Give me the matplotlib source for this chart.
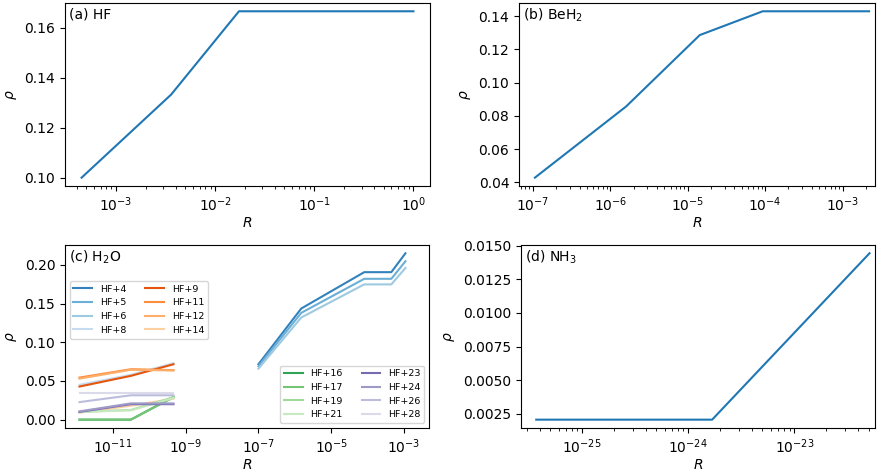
import numpy as np
import matplotlib.pyplot as plt
from matplotlib.ticker import NullLocator

plt.rcParams['font.size'] = 10

# (a) HF
R_hf = [4.5e-4, 3.6e-3, 1.74e-2, 1.0]
rho_hf = [0.1, 0.1333, 0.1667, 0.1667]

# (b) BeH2
R_beh2 = [1.06e-7, 1.6e-6, 1.43e-5, 9.3e-5, 2.2e-3]
rho_beh2 = [0.0429, 0.0857, 0.1286, 0.1429, 0.1429]

# (d) NH3
R_nh3 = [3.7e-26, 1.68e-24, 5.1e-23]
rho_nh3 = [0.00206, 0.00206, 0.01444]

# (c) H2O, two groups of R values
R_small = [1.2e-12, 3.1e-11, 4.6e-10]
R_large = [1.0e-7, 1.5e-6, 8.1e-5, 4.5e-4, 1.1e-3]

h2o_large = {
    'HF+4': [0.0716, 0.1436, 0.1906, 0.1906, 0.2150],
    'HF+5': [0.0690, 0.1380, 0.1820, 0.1820, 0.2047],
    'HF+6': [0.0660, 0.1320, 0.1748, 0.1748, 0.1960],
}
h2o_small = {
    'HF+8': [0.0450, 0.0580, 0.0730],
    'HF+9': [0.0428, 0.0566, 0.0716],
    'HF+11': [0.0544, 0.0652, 0.0640],
    'HF+12': [0.0530, 0.0645, 0.0635],
    'HF+14': [0.0090, 0.0180, 0.0270],
    'HF+16': [0.0, 0.0, 0.0295],
    'HF+17': [0.0, 0.0, 0.0290],
    'HF+19': [0.0100, 0.0125, 0.0290],
    'HF+21': [0.0100, 0.0120, 0.0280],
    'HF+23': [0.0100, 0.0200, 0.0200],
    'HF+24': [0.0107, 0.0210, 0.0210],
    'HF+26': [0.0227, 0.0315, 0.0315],
    'HF+28': [0.0343, 0.0343, 0.0343],
}

cmap = plt.get_cmap('tab20c')
colors = {
    'HF+4': cmap(0), 'HF+5': cmap(1), 'HF+6': cmap(2), 'HF+8': cmap(3),
    'HF+9': cmap(4), 'HF+11': cmap(5), 'HF+12': cmap(6), 'HF+14': cmap(7),
    'HF+16': cmap(8), 'HF+17': cmap(9), 'HF+19': cmap(10), 'HF+21': cmap(11),
    'HF+23': cmap(12), 'HF+24': cmap(13), 'HF+26': cmap(14), 'HF+28': cmap(15),
}

fig = plt.figure(figsize=(8.77, 4.70), dpi=100)
ax_a = fig.add_axes([0.0741, 0.6043, 0.4162, 0.3894])
ax_b = fig.add_axes([0.5918, 0.6043, 0.4060, 0.3894])
ax_c = fig.add_axes([0.0741, 0.0894, 0.4151, 0.3894])
ax_d = fig.add_axes([0.5941, 0.0894, 0.4037, 0.3894])

ax_a.plot(R_hf, rho_hf, color='C0')
ax_b.plot(R_beh2, rho_beh2, color='C0')
ax_d.plot(R_nh3, rho_nh3, color='C0')

lines = {}
for name, vals in h2o_small.items():
    lines[name], = ax_c.plot(R_small, vals, color=colors[name], label=name)
for name, vals in h2o_large.items():
    lines[name], = ax_c.plot(R_large, vals, color=colors[name], label=name)

for ax in [ax_a, ax_b, ax_c, ax_d]:
    ax.set_xscale('log')
    ax.set_xlabel('$R$', labelpad=1)
    ax.set_ylabel(r'$\rho$')

ax_b.set_xlim(10**-7.18, 10**-2.58)
ax_c.set_xlim(10**-12.32, 10**-2.31)
ax_d.set_xlim(10**-25.575, 10**-22.24)
ax_c.set_xticks([1e-11, 1e-9, 1e-7, 1e-5, 1e-3])
ax_c.xaxis.set_minor_locator(NullLocator())

ax_a.text(0.01, 0.935, '(a) HF', transform=ax_a.transAxes, va='center')
ax_b.text(0.01, 0.935, '(b) BeH$_2$', transform=ax_b.transAxes, va='center')
ax_c.text(0.01, 0.935, '(c) H$_2$O', transform=ax_c.transAxes, va='center')
ax_d.text(0.01, 0.935, '(d) NH$_3$', transform=ax_d.transAxes, va='center')

first = ['HF+4', 'HF+5', 'HF+6', 'HF+8', 'HF+9', 'HF+11', 'HF+12', 'HF+14']
second = ['HF+16', 'HF+17', 'HF+19', 'HF+21', 'HF+23', 'HF+24', 'HF+26', 'HF+28']
leg1 = ax_c.legend([lines[n] for n in first], first, ncol=2, fontsize=6.8,
                   loc='upper left', bbox_to_anchor=(0, 0.83))
ax_c.add_artist(leg1)
ax_c.legend([lines[n] for n in second], second, ncol=2, fontsize=6.8,
            loc='lower right')

fig.savefig('out.png', dpi=100)
